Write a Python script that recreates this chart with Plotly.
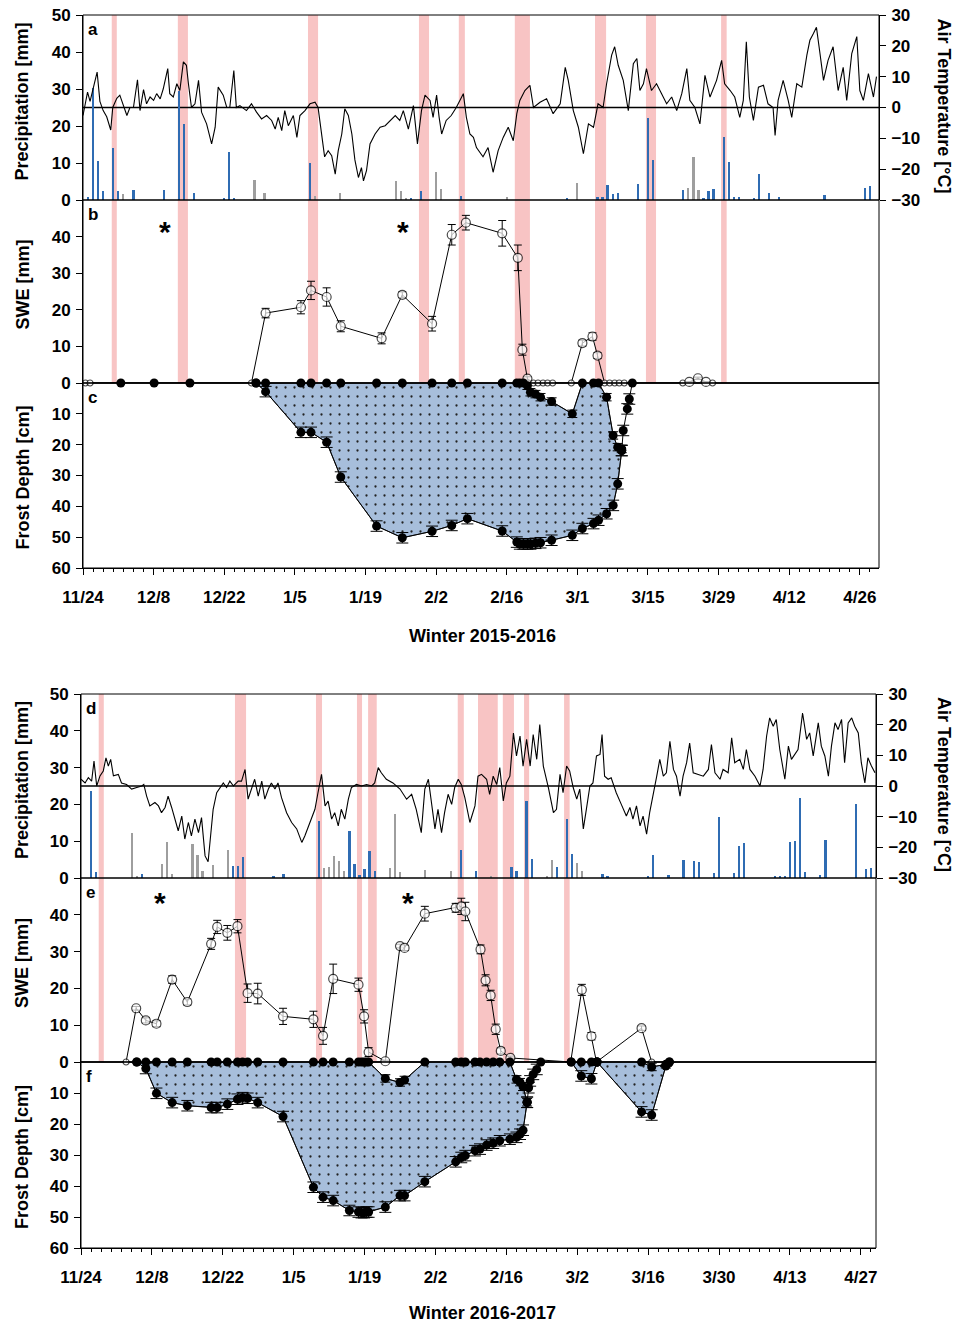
import plotly.graph_objects as go

# ============================ DATA ============================
# x values are days since 24 November of each winter
TICK_DAYS = [0, 14, 28, 42, 56, 70, 84, 98, 112, 126, 140, 154]
TICK_LABELS_1 = ["11/24", "12/8", "12/22", "1/5", "1/19", "2/2", "2/16", "3/1", "3/15", "3/29", "4/12", "4/26"]
TICK_LABELS_2 = ["11/24", "12/8", "12/22", "1/5", "1/19", "2/2", "2/16", "3/2", "3/16", "3/30", "4/13", "4/27"]

# ---- Winter 2015-2016 ----
BAND1_START = [5.7, 18.8, 44.6, 66.6, 74.5, 85.6, 101.5, 111.6, 126.5]
BAND1_END = [6.7, 20.8, 46.6, 68.6, 75.7, 88.6, 103.7, 113.6, 127.6]

T1_DAY = [0, 0.9, 1.4, 2.05, 2.8, 3.35, 4.0, 4.7, 5.5, 5.9, 6.7, 7.3, 8.0, 8.7, 9.3, 10.0, 10.8, 11.3, 12.0, 12.6,
          13.3, 14.0, 14.6, 15.3, 15.9, 16.8, 17.2, 17.9, 18.6, 19.2, 19.9, 20.5, 20.9, 21.5, 22.2, 22.9, 23.5, 24.5,
          25.5, 26.2, 26.8, 27.8, 28.5, 29.1, 29.9, 30.4, 31.1, 32.4, 33.4, 34.4, 35.4, 36.4, 37.4, 38.1, 38.7, 39.4,
          40.0, 40.7, 41.7, 42.4, 43.0, 44.0, 45.0, 46.0, 46.6, 47.3, 47.9, 48.6, 49.3, 50.0, 50.6, 51.3, 51.9, 52.6,
          53.3, 53.9, 54.6, 55.2, 55.6, 56.2, 56.9, 57.9, 58.9, 59.9, 60.9, 61.9, 62.8, 63.5, 64.5, 65.5, 66.3, 67.1,
          67.8, 68.8, 69.4, 70.1, 70.6, 71.1, 72.0, 73.0, 74.0, 75.4, 76.0, 76.7, 77.4, 78.0, 79.3, 80.3, 81.3, 82.3,
          83.3, 84.3, 85.3, 86.0, 86.6, 87.6, 88.6, 89.3, 90.6, 91.9, 93.2, 94.6, 95.6, 96.2, 97.2, 98.2, 99.2, 100.2,
          101.2, 102.1, 103.1, 103.8, 104.8, 105.4, 106.1, 107.1, 108.1, 109.1, 109.8, 110.4, 111.1, 111.7, 112.7,
          113.7, 114.7, 115.7, 116.7, 117.7, 118.7, 119.7, 120.3, 121.3, 122.3, 123.3, 124.3, 125.6, 126.6, 127.2,
          128.3, 129.2, 130.2, 130.9, 131.5, 132.1, 132.9, 133.9, 134.9, 135.8, 136.8, 137.2, 137.8, 138.8, 139.8,
          140.5, 141.5, 142.5, 143.5, 144.1, 144.8, 145.4, 146.1, 146.8, 147.7, 148.7, 149.7, 150.7, 151.4, 152.4,
          153.4, 154.0, 154.7, 155.7, 156.7, 157.3]
T1_VAL = [-2.6, 5, 2, 6.6, 11.5, 2, -1, -3, -7.3, 0, 3, 4, 1, -2.6, 0, 0, 9, -1, 5.8, 1.2,
          3.4, 2.3, 4.5, 2.8, 6, 12.6, 4.5, 3.4, 7.7, 5.5, 14.8, 13.7, 7.7, 0, 1.2, 8.8, -1.5, -5.3,
          -11.8, -6.4, 6.6, 4, 0, 0, 12, 0, 0.6, -1, 1.2, -1.5, -3.7, -2.6, -4.2, -7, -3.2, -7.5,
          -1, -5.9, -2.6, -9.7, -2.6, -1, 1.2, 1.7, 0, -8.6, -16, -14, -15.6, -21.6, -14, -8.6, -0.4, -2.6,
          -8.6, -17, -22.7, -19.5, -23.8, -20.5, -11.8, -8.6, -6.4, -5.9, -4.2, -2.6, -4.2, -1, -7, 0.6, -11.8, -1,
          4, 2.3, -3.2, 4, -3.2, -8.6, -4.2, -2.6, 0, 4.5, -3.2, -8.6, -9.7, -13, -16, -13, -21, -14,
          -9.7, -6.4, -10.8, -2, 2.3, 5.5, 7.2, 0, 1.7, 2.8, -2, 1.2, 13, 8.8, -1, -6.4, -15, -5.3,
          -6.4, 1.2, 0, 7.7, 17, 19.7, 13.7, 8.8, -1, 14.2, 15.9, 5.5, 7.7, 12.6, 5.5,
          7.7, 4.5, 1.2, 3.4, -1, 4.5, 12.6, 2.3, 0, -5.3, 10.4, 3.4, 8.8, 15.3, 7.7,
          5.5, 3.4, -3.2, 2.3, 21.3, 3.4, -4.2, 6.6, 7.2, 1.2, 0, -9.1, 2.3, 8.8, 2.3,
          -3.2, 7.7, 6.6, 17, 21.8, 24, 26, 17.5, 8.8, 15.3, 19.7, 5.5, 13, 2.3, 17.5,
          23, 5.5, 2.3, 11, 3.4, 10]

P1_BLUE_DAY = [1, 2, 3, 4, 6, 7, 10, 16, 19, 20, 22, 28, 29, 30, 45, 65, 67, 75, 96, 102, 103, 104, 105, 106,
               110, 112, 113, 119, 123, 124, 125, 127, 128, 129, 130, 133, 134, 136, 138, 147, 155, 156]
P1_BLUE_VAL = [0.8, 30.2, 10.6, 2.3, 14, 2.5, 2.8, 2.6, 29.5, 20.6, 2.0, 0.6, 12.9, 0.6, 10.1, 0.6, 2.5, 1.2,
               0.5, 0.8, 0.8, 4.1, 1.7, 2.0, 4.3, 22.2, 10.9, 2.7, 0.6, 2.3, 2.9, 17, 10.2, 0.8, 0.8, 0.5, 7,
               2, 0.9, 1.4, 3.2, 3.8]
P1_GRAY_DAY = [8, 34, 36, 46, 51, 62, 63, 64, 70, 71, 84, 98, 120, 121, 122]
P1_GRAY_VAL = [1.7, 5.4, 1.9, 1.2, 1.9, 5.2, 2.5, 0.6, 7.7, 2.9, 0.8, 4.7, 3.2, 11.5, 2.8]

SWE1_DAY = [0.5, 1.4, 33.4, 36.2, 43.2, 45.2, 48.3, 51.1, 59.2, 63.3, 69.2, 73.1, 75.9, 83.1, 86.2, 87.1, 88.1,
            89.3, 90.2, 91.2, 92.1, 93.1, 96.8, 99.0, 101.0, 102.0, 103.4, 104.4, 105.4, 106.3, 107.3,
            118.9, 120.2, 121.9, 123.5, 124.8]
SWE1_VAL = [0, 0, 0, 19.1, 20.7, 25.3, 23.5, 15.5, 12.2, 24.1, 16.2, 40.5, 43.8, 40.9, 34.2, 9.1, 1.2,
            0, 0, 0, 0, 0, 0, 10.9, 12.7, 7.5, 0, 0, 0, 0, 0,
            0, 0.3, 1.3, 0.3, 0]
SWE1_ERR = [0, 0, 0, 1.3, 1.8, 2.5, 2.5, 1.5, 1.5, 0.8, 2.0, 2.8, 2.0, 3.5, 3.5, 1.5, 0.5,
            0, 0, 0, 0, 0, 0, 0.8, 1.0, 0.8, 0, 0, 0, 0, 0,
            0, 0, 0.3, 0, 0]
STAR1_DAY = [16.3, 63.4]
STAR1_SWE = [41.5, 41.5]

FZERO1_DAY = [7.5, 14.1, 21.2]
FROST1_DAY = [34.3, 36.2, 43.2, 45.2, 48.3, 51.1, 58.2, 63.3, 69.2, 73.1, 76.2, 83.1, 86.0, 86.6, 87.3, 88.1,
              88.7, 89.7, 90.7, 92.9, 97.0, 99.0, 101.2, 102.2, 103.8, 105.1, 106.0, 106.8]
FROST1_TOP = [0, 0, 0, 0, 0, 0, 0, 0, 0, 0, 0, 0, 0, 0, 0, 0.9,
              3.0, 3.6, 4.6, 6.0, 10.0, 0, 0, 0, 4.6, 17.0, 20.8, 21.4]
FROST1_BOT = [0, 2.8, 16, 16, 19.2, 30.5, 46.4, 50.2, 48.1, 46.2, 44, 48, 51.6, 52.2, 52.2, 52.2,
              52.2, 52, 51.8, 51, 49.4, 47.2, 45.6, 44.5, 42.4, 39.7, 32.7, 21.9]
FTAIL1_DAY = [106.8, 107.1, 107.9, 108.3, 108.9]
FTAIL1_VAL = [21.9, 15.4, 8.4, 5.2, 0]

# ---- Winter 2016-2017 ----
BAND2_START = [3.5, 30.4, 46.4, 54.5, 56.7, 74.4, 78.4, 83.3, 87.5, 95.4]
BAND2_END = [4.5, 32.6, 47.6, 55.5, 58.4, 75.6, 82.3, 85.5, 88.5, 96.5]

T2_DAY = [0, 0.8, 1.45, 2.1, 2.57, 3.1, 3.75, 4.4, 4.93, 5.4, 5.86, 6.4, 7.37, 8.0, 9.0, 10.0, 11.0, 12.0, 12.4,
          12.96, 13.6, 14.6, 15.3, 15.9, 16.6, 17.2, 17.9, 18.55, 19.2, 19.9, 20.5, 21.2, 21.8, 22.5, 23.2, 23.8,
          24.5, 25.1, 25.5, 26.1, 26.8, 27.4, 28.1, 28.75, 29.4, 30.1, 31.05, 31.7, 32.4, 33.0, 33.7, 34.3, 35.0,
          35.7, 36.3, 37.0, 37.6, 38.3, 38.9, 39.6, 40.6, 41.6, 42.6, 43.6, 44.2, 44.9, 45.5, 46.2, 46.8, 47.5,
          48.2, 48.8, 49.5, 50.1, 50.8, 51.4, 52.1, 52.8, 53.4, 54.4, 55.4, 56.4, 57.4, 58.0, 58.7, 59.3, 60.3,
          61.6, 63.0, 64.3, 65.3, 66.2, 67.2, 67.9, 68.6, 69.2, 69.9, 70.5, 71.2, 71.8, 72.5, 73.2, 73.8, 74.5,
          75.1, 75.8, 76.8, 77.8, 78.4, 79.1, 80.1, 80.7, 81.4, 82.1, 82.7, 83.4, 84.0, 84.7, 85.4, 86.0, 86.7,
          87.3, 88.0, 88.7, 89.3, 90.0, 90.6, 91.3, 92.3, 93.3, 93.9, 94.6, 95.2, 95.9, 96.5, 97.2, 97.9, 98.5,
          99.2, 99.8, 100.5, 101.1, 101.8, 102.5, 102.9, 103.4, 104.1, 104.7, 105.7, 106.7, 107.7, 108.4, 109.0,
          109.7, 110.4, 111.0, 111.7, 112.3, 113.0, 113.7, 114.3, 115.0, 115.6, 116.3, 117.0, 117.6, 118.3,
          118.9, 119.6, 120.2, 120.9, 121.9, 122.9, 123.9, 124.5, 125.2, 126.2, 126.8, 127.8, 128.5, 129.1,
          130.1, 130.8, 131.4, 132.1, 133.1, 134.1, 134.7, 135.4, 136.0, 136.7, 137.3, 138.0, 139.0, 139.7,
          140.3, 141.0, 141.6, 142.5, 143.3, 143.9, 144.6, 145.6, 146.2, 146.9, 147.6, 148.2, 148.9, 149.5,
          150.2, 150.8, 151.5, 152.2, 152.8, 153.5, 154.1, 154.8, 155.4, 156.1, 156.8]
T2_VAL = [2.2, 1, 2.7, 1.6, 8.1, 0, 3.3, 4.9, 9.2, 6.5, 8.7, 3.3, 3.8, 1, 0.5, -1, -0.5, 0, 0.5,
          -3.3, -6.5, -5.4, -6.5, -8.7, -7, -3.3, -7, -10.8, -14.6, -9.8, -17.3, -11.9, -16.3, -10.8, -15.2, -10.3,
          -22.8, -24.7, -17.3, -7.6, -2.2, -0.5, 1, -0.5, 1.6, 0, 1.6, 1.6, 5.4, -4.3, -0.5, 2.2, -3.3,
          1.6, -4.3, -1, 1, -1, 1, -3.8, -8.7, -11.9, -14, -18.4, -16.3, -13, -10.8, -7.6, -2.2, 3.8,
          -6.5, -4.9, -10.8, -8.7, -13, -7.6, -10.8, -4.3, -0.5, 0.5, 0, 0.5, 0, 1, 6, 4.3, 2.2,
          1, -1, -4.3, -2.7, -7.6, -15.2, -1, 2.2, -5.4, -14, -7.6, -15.2, -8.7, -2.7, -6, -0.5, 2.2,
          0.5, -3.8, -11.9, -6.5, 3.2, 3.8, 2.2, -2.7, 3.2, 0.5, 6, -4.9, 1, 3.2, 17.3, 9.8, 16.3,
          6.5, 15.2, 6.5, 16.8, 8.7, 20, 6.5, -0.5, -8.7, -7.6, 3.8, -2.2, 6.5, 4.9, -0.5, -4.3, -1,
          -14, -7.6, 0, 1, 9.8, 10.3, 16.8, 3.2, 2.2, 2.7, -2.2, -6, -9.8, -7, -10.8,
          -6.5, -13, -9.8, -15.7, -8.7, -3.3, 3.2, 8.7, 3.2, 4.3, 14.6, 5.4, 3.2, -3.3,
          3.2, 7.6, 14, 4.3, 3.8, 3.2, 5.4, 13.5, 4.3, 2.2, 5.4, 4.3, 15.7, 7.6,
          8.7, 5.4, 11.9, 5.4, 3.2, 0, 5.4, 16.3, 22.2, 19.5, 21.7, 11.9, 2.2, 13,
          8.7, 10.3, 11.9, 23.8, 15.2, 17.3, 9.8, 20.6, 13, 9.8, 3.2, 13, 20.6, 18.4,
          21.7, 7.6, 20.6, 22.2, 19.5, 17.3, 7.6, 1, 9.2, 6.5, 4.3]

P2_BLUE_DAY = [2, 3, 12, 30, 31, 32, 38, 40, 47, 53, 54, 55, 56, 57, 58, 75, 78, 85, 86, 88, 89, 94, 96, 97,
               103, 104, 112, 113, 116, 119, 121, 122, 125, 126, 129, 130, 131, 137, 138, 139, 140, 141, 142,
               143, 146, 147, 153, 155, 156]
P2_BLUE_VAL = [23.6, 1.5, 1.2, 3.3, 3.3, 5.8, 0.6, 1.2, 15.4, 12.9, 3.7, 0.9, 2.4, 7.4, 1.8, 7.7, 2.0, 2.9,
               1.8, 20.9, 5.1, 3.1, 16.0, 6.5, 1.1, 0.5, 0.4, 6.3, 0.9, 4.9, 4.6, 4.4, 1.4, 16.6, 1.4, 8.8,
               9.5, 0.5, 0.5, 0.5, 9.9, 10.1, 21.8, 1.5, 0.8, 10.4, 20.2, 2.4, 2.6]
P2_GRAY_DAY = [10, 11, 16, 17, 18, 22, 23, 24, 26, 29, 48, 49, 50, 51, 52, 61, 62, 63, 68, 73, 81, 92, 93, 98, 99]
P2_GRAY_VAL = [12.2, 0.5, 3.7, 9.8, 1.2, 9.2, 6.3, 2.0, 3.5, 7.5, 2.6, 3.1, 6.0, 4.7, 1.9, 2.8, 17.5, 1.5,
               2.3, 1.8, 0.4, 0.6, 4.9, 4.0, 2.0]

SWE2_DAY = [8.9, 10.9, 12.8, 14.9, 18.0, 21.0, 25.7, 26.9, 28.9, 30.9, 32.9, 34.9, 39.9, 45.9, 47.8, 49.8,
            54.8, 55.9, 56.8, 60.1, 63.0, 63.9, 67.9, 74.0, 75.1, 75.9, 78.9, 79.9, 80.9, 81.9, 82.9, 84.8,
            96.7, 98.9, 100.8, 101.8, 110.7, 112.7]
SWE2_VAL = [0, 14.6, 11.3, 10.4, 22.4, 16.3, 32.1, 36.7, 35.1, 36.9, 18.7, 18.6, 12.4, 11.6, 7.1, 22.6,
            21.0, 12.4, 2.7, 0.2, 31.5, 31.0, 40.3, 41.9, 42.3, 40.9, 30.6, 22.2, 18.1, 8.9, 3.0, 1.1,
            0, 19.6, 7.0, 0, 9.2, 0]
SWE2_ERR = [0, 0.5, 0.7, 0.8, 1.0, 0.8, 1.5, 1.8, 2.0, 1.8, 2.5, 2.8, 2.2, 2.2, 2.3, 4.0,
            1.8, 1.8, 1.2, 0.3, 0.5, 0.7, 2.0, 1.2, 2.2, 2.5, 1.2, 1.5, 1.4, 1.4, 0.8, 0.5,
            0, 1.5, 1.0, 0, 0.6, 0]
STAR2_DAY = [15.6, 64.6]
STAR2_SWE = [43.3, 43.3]

FZERO2_DAY = []
FROST2_DAY = [11.0, 12.8, 14.9, 18.0, 21.0, 25.7, 26.9, 28.9, 30.9, 31.9, 32.9, 34.9, 39.9, 45.9, 47.8, 49.8,
              53.0, 54.8, 55.4, 55.9, 56.4, 56.8, 60.1, 63.0, 63.9, 67.9, 74.0, 75.1, 75.9, 77.8, 78.8, 80.1,
              81.4, 82.7, 84.7, 86.0, 86.7, 87.3, 88.1]
FROST2_TOP = [0, 0, 0, 0, 0, 0, 0, 0, 0, 0, 0, 0, 0, 0, 0, 0,
              0, 0, 0, 0, 0, 0, 5.3, 6.6, 5.8, 0, 0, 0, 0, 0, 0, 0,
              0, 0, 0, 5.6, 6.5, 8.0, 13.0]
FROST2_BOT = [0, 2.1, 10.1, 13.1, 14.1, 14.7, 14.7, 13.6, 12.0, 11.5, 11.7, 13.1, 17.6, 40.4, 43.6, 44.7,
              47.9, 48.4, 48.6, 48.6, 48.4, 48.4, 46.8, 43.1, 43.1, 38.6, 32.2, 30.8, 30.2, 28.6, 28.1, 26.8,
              26.2, 25.4, 24.9, 24.3, 23.3, 22.0, 13.0]
FTAIL2_DAY = [88.1, 88.4, 88.7, 89.3, 90.0, 90.8]
FTAIL2_VAL = [13.0, 8.3, 6.1, 4.0, 2.4, 0]
FROST2B_DAY = [96.8, 98.8, 100.8, 101.9]
FROST2B_TOP = [0, 0, 0, 0]
FROST2B_BOT = [0, 4.5, 5.4, 0]
FROST2C_DAY = [101.9, 110.7, 112.7, 115.5, 116.2]
FROST2C_TOP = [0, 0, 1.6, 0.75, 0]
FROST2C_BOT = [0, 16.1, 17.1, 1.3, 0]

# ============================ STYLE / LAYOUT ============================
W, H = 958, 1327
FONT = "Liberation Sans, Arial, Helvetica, sans-serif"
BLUE = "#2f6cb3"
GRAY = "#9e9e9e"
PINK = "#f8c4c4"
FILL = "#a7bedb"

def py(px):
    return 1 - px / H

def px_(px):
    return px / W

seasons = [
    dict(geom=dict(x0=83, x1=879, a=(15, 200), b=(200, 383), c=(383, 568), xmax=157.8, title_y=636),
         ax=dict(x="x", ya="y", yt="y2", yb="y3", yc="y4"),
         labels=TICK_LABELS_1, title="Winter 2015-2016", letters="abc",
         bands=(BAND1_START, BAND1_END), temp=(T1_DAY, T1_VAL),
         blue=(P1_BLUE_DAY, P1_BLUE_VAL), gray=(P1_GRAY_DAY, P1_GRAY_VAL),
         swe=(SWE1_DAY, SWE1_VAL, SWE1_ERR), stars=(STAR1_DAY, STAR1_SWE),
         fzero=FZERO1_DAY,
         episodes=[(FROST1_DAY, FROST1_TOP, FROST1_BOT)],
         tails=[(FTAIL1_DAY, FTAIL1_VAL)]),
    dict(geom=dict(x0=81, x1=876, a=(694, 878), b=(878, 1062), c=(1062, 1248), xmax=157.0, title_y=1313),
         ax=dict(x="x2", ya="y5", yt="y6", yb="y7", yc="y8"),
         labels=TICK_LABELS_2, title="Winter 2016-2017", letters="def",
         bands=(BAND2_START, BAND2_END), temp=(T2_DAY, T2_VAL),
         blue=(P2_BLUE_DAY, P2_BLUE_VAL), gray=(P2_GRAY_DAY, P2_GRAY_VAL),
         swe=(SWE2_DAY, SWE2_VAL, SWE2_ERR), stars=(STAR2_DAY, STAR2_SWE),
         fzero=FZERO2_DAY,
         episodes=[(FROST2_DAY, FROST2_TOP, FROST2_BOT),
                   (FROST2B_DAY, FROST2B_TOP, FROST2B_BOT),
                   (FROST2C_DAY, FROST2C_TOP, FROST2C_BOT)],
         tails=[(FTAIL2_DAY, FTAIL2_VAL)]),
]

def akey(a):
    return a[0] + "axis" + a[1:]

tickfont = dict(family=FONT, size=17, color="black", weight="bold")

fig = go.Figure()
shapes = []
annotations = []
layout = {}

for s in seasons:
    g, ax = s["geom"], s["ax"]
    X, YA, YT, YB, YC = ax["x"], ax["ya"], ax["yt"], ax["yb"], ax["yc"]
    xd = [px_(g["x0"]), px_(g["x1"])]
    dom_a = [py(g["a"][1]), py(g["a"][0])]
    dom_b = [py(g["b"][1]), py(g["b"][0])]
    dom_c = [py(g["c"][1]), py(g["c"][0])]

    layout[akey(X)] = dict(
        domain=xd, range=[0, g["xmax"]], anchor=YC, tickmode="array", tickvals=TICK_DAYS,
        ticktext=s["labels"], ticks="outside", ticklen=6, tickwidth=1, tickcolor="black",
        showline=True, linecolor="black", linewidth=1, showgrid=False, zeroline=False,
        tickfont=tickfont, ticklabelstandoff=8, fixedrange=True, automargin=False,
        minor=dict(ticks="outside", ticklen=3, tickwidth=1, tickcolor="black", dtick=2, tick0=0, showgrid=False))

    common = dict(anchor=X, ticks="outside", ticklen=6, tickwidth=1, tickcolor="black",
                  showline=True, linecolor="black", linewidth=1, showgrid=False, zeroline=False,
                  tickfont=tickfont, fixedrange=True, ticklabelstandoff=2, automargin=False)
    layout[akey(YA)] = dict(domain=dom_a, range=[0, 50], tickvals=[0, 10, 20, 30, 40, 50], side="left", **common)
    layout[akey(YT)] = dict(domain=dom_a, range=[-30, 30], tickvals=[-30, -20, -10, 0, 10, 20, 30],
                            side="right", overlaying=YA, **common)
    layout[akey(YB)] = dict(domain=dom_b, range=[0, 50], tickvals=[0, 10, 20, 30, 40], side="left", **common)
    layout[akey(YC)] = dict(domain=dom_c, range=[60, 0], tickvals=[10, 20, 30, 40, 50, 60], side="left", **common)

    # pink event bands spanning panels a and b
    for x0, x1 in zip(*s["bands"]):
        shapes.append(dict(type="rect", xref=X, yref="paper", x0=x0, x1=x1, y0=dom_b[0], y1=dom_a[1],
                           fillcolor=PINK, line=dict(width=0), layer="below"))

    # panel frames
    for yy in (YA, YB, YC):
        shapes.append(dict(type="rect", xref=X + " domain", yref=yy + " domain", x0=0, x1=1, y0=0, y1=1,
                           line=dict(color="black", width=1), layer="above"))
    shapes.append(dict(type="line", xref=X + " domain", yref=YC + " domain", x0=0, x1=1, y0=1, y1=1,
                       line=dict(color="black", width=1.6), layer="below"))
    # 0 degC line
    shapes.append(dict(type="line", xref=X + " domain", yref=YT, x0=0, x1=1, y0=0, y1=0,
                       line=dict(color="black", width=1.3), layer="below"))

    # precipitation bars
    fig.add_trace(go.Bar(x=s["blue"][0], y=s["blue"][1], width=0.45, marker=dict(color=BLUE, line=dict(width=0)),
                         xaxis=X, yaxis=YA, showlegend=False))
    fig.add_trace(go.Bar(x=s["gray"][0], y=s["gray"][1], width=0.45, marker=dict(color=GRAY, line=dict(width=0)),
                         xaxis=X, yaxis=YA, showlegend=False))
    # air temperature
    fig.add_trace(go.Scatter(x=s["temp"][0], y=s["temp"][1], mode="lines", line=dict(color="black", width=1.1),
                             xaxis=X, yaxis=YT, showlegend=False))

    # SWE
    sd, sv, se = s["swe"]
    fig.add_trace(go.Scatter(
        x=sd, y=sv, mode="lines+markers", xaxis=X, yaxis=YB, showlegend=False, cliponaxis=False,
        line=dict(color="black", width=1),
        marker=dict(symbol="circle", color="white", size=[6 if v == 0 else 9 for v in sv],
                    line=dict(color="black", width=1.2)),
        error_y=dict(type="data", array=se, color="black", thickness=1, width=4)))

    # frost depth
    for days, top, bot in s["episodes"]:
        fig.add_trace(go.Scatter(
            x=days + days[::-1], y=top + bot[::-1], mode="lines", fill="toself",
            fillcolor=FILL, fillpattern=dict(shape=".", bgcolor=FILL, fgcolor="#222222", size=9, solidity=0.05),
            line=dict(color="black", width=0.8), xaxis=X, yaxis=YC, showlegend=False, hoverinfo="skip"))
        fig.add_trace(go.Scatter(
            x=days, y=top, mode="lines+markers", xaxis=X, yaxis=YC, showlegend=False, cliponaxis=False,
            line=dict(color="black", width=1), marker=dict(color="black", size=9),
            error_y=dict(type="data", array=[1.2 if v > 0 else 0 for v in top], color="black",
                         thickness=1, width=5)))
        fig.add_trace(go.Scatter(
            x=days, y=bot, mode="lines+markers", xaxis=X, yaxis=YC, showlegend=False, cliponaxis=False,
            line=dict(color="black", width=1), marker=dict(color="black", size=9),
            error_y=dict(type="data", array=[1.7 if v > 2 else 0 for v in bot], color="black",
                         thickness=1, width=6)))
    for days, vals in s["tails"]:
        fig.add_trace(go.Scatter(
            x=days, y=vals, mode="lines+markers", xaxis=X, yaxis=YC, showlegend=False, cliponaxis=False,
            line=dict(color="black", width=1), marker=dict(color="black", size=9),
            error_y=dict(type="data", array=[1.7 if v > 0 else 0 for v in vals], color="black",
                         thickness=1, width=6)))
    if s["fzero"]:
        fig.add_trace(go.Scatter(
            x=s["fzero"], y=[0] * len(s["fzero"]), mode="markers", xaxis=X, yaxis=YC, showlegend=False,
            cliponaxis=False, marker=dict(color="black", size=9)))

    # asterisks
    for d, v in zip(*s["stars"]):
        annotations.append(dict(x=d, y=v, xref=X, yref=YB, text="<b>*</b>", showarrow=False,
                                font=dict(family=FONT, size=30, color="black")))

    # panel letters
    for letter, yy in zip(s["letters"], (YA, YB, YC)):
        annotations.append(dict(x=0.004, y=0.985, xref=X + " domain", yref=yy + " domain",
                                text="<b>%s</b>" % letter, showarrow=False, xanchor="left", yanchor="top",
                                font=dict(family=FONT, size=17, color="black")))

    # axis titles
    for txt, yc in (("Precipitation [mm]", sum(g["a"]) / 2 - 6),
                    ("SWE [mm]", sum(g["b"]) / 2 - 7),
                    ("Frost Depth [cm]", sum(g["c"]) / 2 + 2)):
        annotations.append(dict(x=px_(22), y=py(yc), xref="paper", yref="paper", text="<b>%s</b>" % txt,
                                textangle=-90, showarrow=False, xanchor="center", yanchor="middle",
                                font=dict(family=FONT, size=18, color="black")))
    annotations.append(dict(x=px_(944), y=py(sum(g["a"]) / 2 - 2), xref="paper", yref="paper",
                            text="<b>Air Temperature [°C]</b>", textangle=90, showarrow=False,
                            xanchor="center", yanchor="middle", font=dict(family=FONT, size=18, color="black")))
    annotations.append(dict(x=px_(482), y=py(g["title_y"]), xref="paper", yref="paper",
                            text="<b>%s</b>" % s["title"], showarrow=False, xanchor="center", yanchor="middle",
                            font=dict(family=FONT, size=18, color="black")))

fig.update_layout(
    template="none",
    width=W, height=H, margin=dict(l=0, r=0, t=0, b=0, autoexpand=False),
    paper_bgcolor="white", plot_bgcolor="rgba(0,0,0,0)",
    barmode="overlay", bargap=0, showlegend=False,
    shapes=shapes, annotations=annotations,
    font=dict(family=FONT, color="black"),
    **layout)

fig.write_html("out.html", config={"displayModeBar": False},
               post_script="document.body.style.margin='0';document.body.style.overflow='hidden';")
